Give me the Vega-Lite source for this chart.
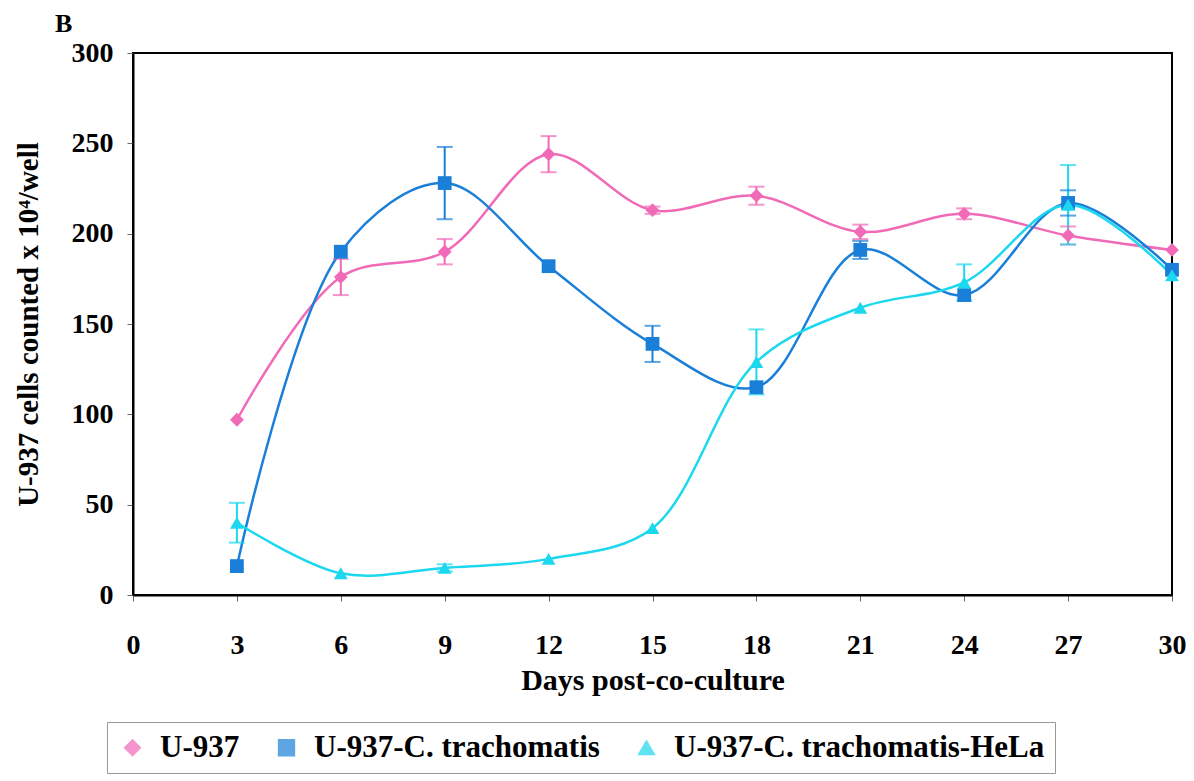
{
  "$schema": "https://vega.github.io/schema/vega-lite/v6.json",
  "width": 1039,
  "height": 542,
  "autosize": {"type": "none"},
  "padding": {"left": 133, "top": 53, "right": 22, "bottom": 186},
  "background": "white",
  "title": {"text": "B", "anchor": "start", "frame": "group", "dx": -78, "offset": 2, "fontSize": 26, "font": "Liberation Serif", "fontWeight": "bold", "color": "black"},
  "config": {"view": {"stroke": "black", "strokeWidth": 2}, "font": "Liberation Serif"},
  "data": {"values": [
    {"day": 3, "series": "U-937", "value": 97, "lo": null, "hi": null},
    {"day": 6, "series": "U-937", "value": 176, "lo": 166, "hi": 186},
    {"day": 9, "series": "U-937", "value": 190, "lo": 183, "hi": 197},
    {"day": 12, "series": "U-937", "value": 244, "lo": 234, "hi": 254},
    {"day": 15, "series": "U-937", "value": 213, "lo": 211, "hi": 215},
    {"day": 18, "series": "U-937", "value": 221, "lo": 216, "hi": 226},
    {"day": 21, "series": "U-937", "value": 201, "lo": 197, "hi": 205},
    {"day": 24, "series": "U-937", "value": 211, "lo": 208, "hi": 214},
    {"day": 27, "series": "U-937", "value": 199, "lo": 194, "hi": 204},
    {"day": 30, "series": "U-937", "value": 191, "lo": null, "hi": null},
    {"day": 3, "series": "U-937-C. trachomatis", "value": 16, "lo": null, "hi": null},
    {"day": 6, "series": "U-937-C. trachomatis", "value": 190, "lo": null, "hi": null},
    {"day": 9, "series": "U-937-C. trachomatis", "value": 228, "lo": 208, "hi": 248},
    {"day": 12, "series": "U-937-C. trachomatis", "value": 182, "lo": null, "hi": null},
    {"day": 15, "series": "U-937-C. trachomatis", "value": 139, "lo": 129, "hi": 149},
    {"day": 18, "series": "U-937-C. trachomatis", "value": 115, "lo": null, "hi": null},
    {"day": 21, "series": "U-937-C. trachomatis", "value": 191, "lo": 186, "hi": 196},
    {"day": 24, "series": "U-937-C. trachomatis", "value": 166, "lo": null, "hi": null},
    {"day": 27, "series": "U-937-C. trachomatis", "value": 217, "lo": 210, "hi": 224},
    {"day": 30, "series": "U-937-C. trachomatis", "value": 180, "lo": null, "hi": null},
    {"day": 3, "series": "U-937-C. trachomatis-HeLa", "value": 40, "lo": 29, "hi": 51},
    {"day": 6, "series": "U-937-C. trachomatis-HeLa", "value": 12, "lo": null, "hi": null},
    {"day": 9, "series": "U-937-C. trachomatis-HeLa", "value": 15, "lo": 13, "hi": 17},
    {"day": 12, "series": "U-937-C. trachomatis-HeLa", "value": 20, "lo": null, "hi": null},
    {"day": 15, "series": "U-937-C. trachomatis-HeLa", "value": 37, "lo": null, "hi": null},
    {"day": 18, "series": "U-937-C. trachomatis-HeLa", "value": 129, "lo": 111, "hi": 147},
    {"day": 21, "series": "U-937-C. trachomatis-HeLa", "value": 159, "lo": null, "hi": null},
    {"day": 24, "series": "U-937-C. trachomatis-HeLa", "value": 173, "lo": 163, "hi": 183},
    {"day": 27, "series": "U-937-C. trachomatis-HeLa", "value": 216, "lo": 194, "hi": 238},
    {"day": 30, "series": "U-937-C. trachomatis-HeLa", "value": 177, "lo": null, "hi": null}
  ]},
  "encoding": {
    "x": {"field": "day", "type": "quantitative", "title": "Days post-co-culture",
      "scale": {"domain": [0, 30], "nice": false, "zero": false},
      "axis": {"values": [0, 3, 6, 9, 12, 15, 18, 21, 24, 27, 30], "grid": false, "domainColor": "black", "domainWidth": 2, "tickColor": "#666", "tickSize": 6, "labelPadding": 30, "labelFontSize": 28, "labelFont": "Liberation Serif", "labelFontWeight": "bold", "labelColor": "black", "labelFlush": false, "titleFontSize": 30, "titleFont": "Liberation Serif", "titleFontWeight": "bold", "titleColor": "black", "titlePadding": 6}},
    "color": {"field": "series", "type": "nominal",
      "scale": {"domain": ["U-937", "U-937-C. trachomatis", "U-937-C. trachomatis-HeLa"], "range": ["#F06AB8", "#1A7FD8", "#1CD8EE"]}}
  },
  "layer": [
    {"mark": {"type": "line", "interpolate": "catmull-rom", "strokeWidth": 2.5},
     "encoding": {"y": {"field": "value", "type": "quantitative", "title": "U-937 cells counted x 10⁴/well",
        "scale": {"domain": [0, 300], "nice": false},
        "axis": {"values": [0, 50, 100, 150, 200, 250, 300], "grid": false, "domainColor": "black", "domainWidth": 2, "tickColor": "#666", "tickSize": 6, "labelPadding": 14, "labelFontSize": 28, "labelFont": "Liberation Serif", "labelFontWeight": "bold", "labelColor": "black", "titleFontSize": 29, "titleFont": "Liberation Serif", "titleFontWeight": "bold", "titleColor": "black", "titlePadding": 28}}}},
    {"transform": [{"filter": "datum.lo != null"}],
     "mark": {"type": "rule", "strokeWidth": 2},
     "encoding": {"y": {"field": "lo", "type": "quantitative"}, "y2": {"field": "hi"}}},
    {"transform": [{"filter": "datum.lo != null"}],
     "mark": {"type": "tick", "orient": "horizontal", "size": 16, "thickness": 2},
     "encoding": {"y": {"field": "lo", "type": "quantitative"}}},
    {"transform": [{"filter": "datum.lo != null"}],
     "mark": {"type": "tick", "orient": "horizontal", "size": 16, "thickness": 2},
     "encoding": {"y": {"field": "hi", "type": "quantitative"}}},
    {"mark": {"type": "point", "filled": true, "opacity": 1, "size": 190},
     "encoding": {
       "y": {"field": "value", "type": "quantitative"},
       "shape": {"field": "series", "type": "nominal",
         "scale": {"domain": ["U-937", "U-937-C. trachomatis", "U-937-C. trachomatis-HeLa"], "range": ["diamond", "square", "triangle-up"]},
         "legend": {"orient": "none", "legendX": -26, "legendY": 669, "direction": "horizontal", "title": null, "strokeColor": "#999", "padding": 10, "symbolSize": 250, "labelFontSize": 31, "labelFont": "Liberation Serif", "labelFontWeight": "bold", "labelColor": "black", "columnPadding": 31, "labelOffset": 12, "labelLimit": 700}},
       "color": {"field": "series", "type": "nominal",
         "legend": {"orient": "none", "legendX": -26, "legendY": 669, "direction": "horizontal", "title": null, "strokeColor": "#999", "padding": 10, "symbolSize": 250, "labelFontSize": 31, "labelFont": "Liberation Serif", "labelFontWeight": "bold", "labelColor": "black", "columnPadding": 31, "labelOffset": 12, "labelLimit": 700}}
     }}
  ]
}
